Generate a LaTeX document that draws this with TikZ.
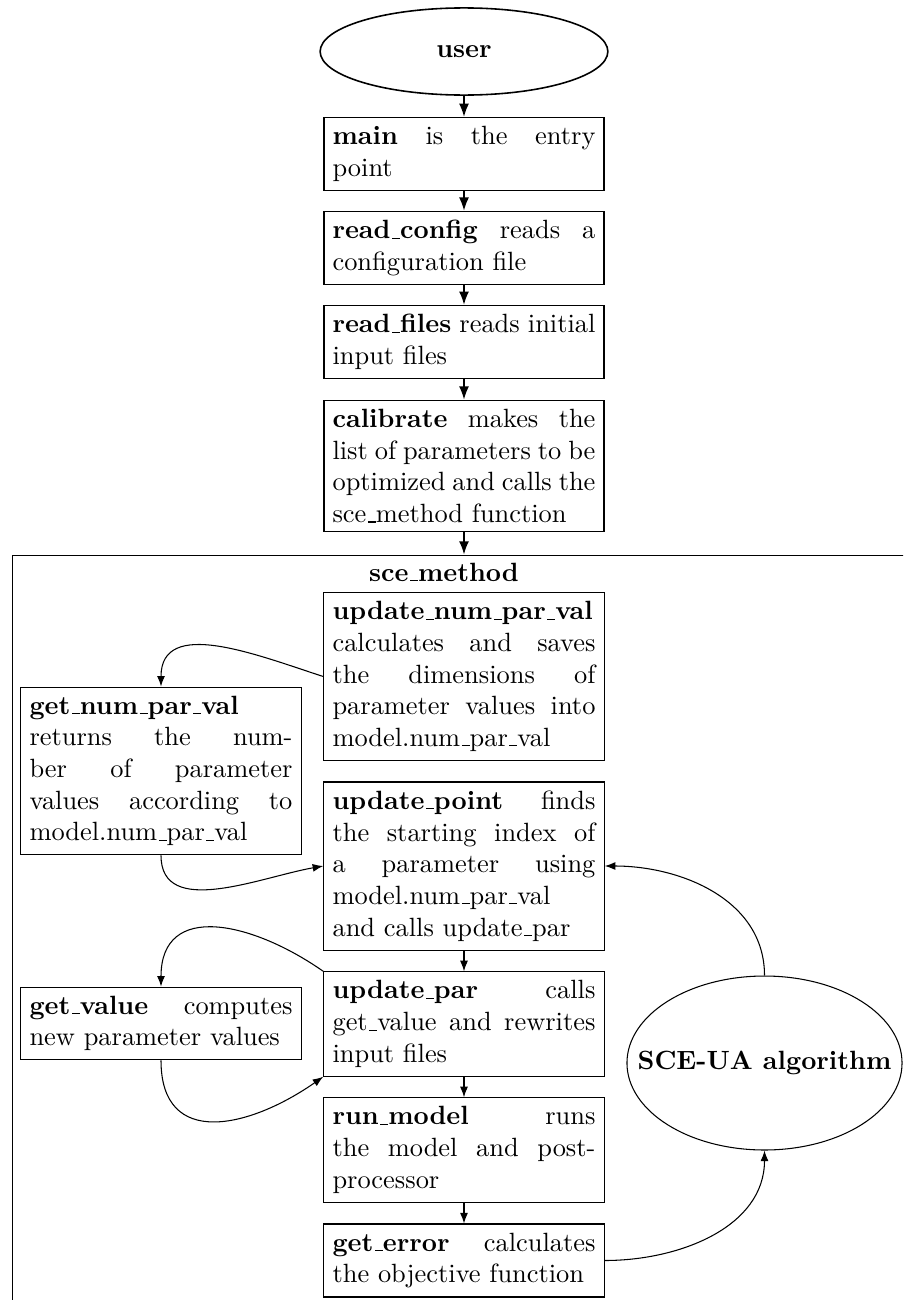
\documentclass[tikz,border=0pt]{standalone}
\usetikzlibrary{shapes.geometric,arrows.meta}
% underscore drawn as a short rule on the baseline
\newcommand\us{\leavevmode\kern.06em\vbox{\hrule width.3em}}
\begin{document}
\begin{tikzpicture}[x=0.3788pt,y=-0.3788pt,
  box/.style={draw, rectangle, text width=3.5cm, align=justify, inner sep=0.3333em, line width=0.4pt},
  topbox/.style={box, line width=0.6pt},
  toparrow/.style={-{Latex[length=5pt,width=3.8pt]}, line width=0.6pt},
  flow/.style={-{Latex[length=4pt,width=3pt]}, line width=0.4pt}]
\useasboundingbox (0,0) rectangle (903,1300);
\clip (0,0) rectangle (903,1300);

% main call chain
\node[draw, ellipse, line width=0.6pt, minimum width=109pt, minimum height=33pt, font=\bfseries] (user) at (464,51.5) {user};
\node[topbox] (main) at (464,154) {\textbf{main} is the entry point};
\node[topbox] (rcfg) at (464,248) {\textbf{read\us config} reads a configuration file};
\node[topbox] (rfiles) at (464,342) {\textbf{read\us files} reads initial input files};
\node[topbox] (calib) at (464,466) {\textbf{calibrate} makes the list of parameters to be optimized and calls the sce\us method function};

% sce_method frame
\node[draw, line width=0.5pt, anchor=north west, minimum width=380pt, minimum height=340pt, inner sep=0pt] (frame) at (11.5,554.5) {};
\node[font=\bfseries] (frametitle) at (444,572) {sce\us method};

\draw[toparrow] (user) -- (main);
\draw[toparrow] (main) -- (rcfg);
\draw[toparrow] (rcfg) -- (rfiles);
\draw[toparrow] (rfiles) -- (calib);
\draw[toparrow] (calib.south) -- (calib.south |- frame.north);

% functions inside sce_method
\node[box] (unpv) at (464,676.5) {\textbf{update\us num\us par\us val} calculates and saves the dimensions of parameter values into model.num\us par\us val};
\node[box] (gnpv) at (161,771) {\textbf{get\us num\us par\us val} returns the number of parameter values according to model.num\us par\us val};
\node[box] (upoint) at (464,866) {\textbf{update\us point} finds the starting index of a parameter using model.num\us par\us val and calls update\us par};
\node[box] (upar) at (464,1024) {\textbf{update\us par} calls get\us value and rewrites input files};
\node[box] (getval) at (161,1023.5) {\textbf{get\us value} computes new parameter values};
\node[box] (runm) at (464,1150) {\textbf{run\us model} runs the model and post-processor};
\node[box] (gerr) at (464,1260.5) {\textbf{get\us error} calculates the objective function};
\node[draw, ellipse, line width=0.4pt, minimum width=104.2pt, minimum height=65.9pt, inner sep=0pt] (sce) at (764.5,1063) {};
\node[font=\bfseries, inner sep=0pt] (scetext) at (sce.center) {SCE-UA algorithm};

\draw[flow] (upoint) -- (upar);
\draw[flow] (upar) -- (runm);
\draw[flow] (runm) -- (gerr);
\draw[flow] (unpv.west) to[out=162, in=90, looseness=1.1] (gnpv.north);
\draw[flow] (gnpv.south) to[out=-90, in=190] (upoint.west);
\draw[flow] (upar.north west) to[out=145, in=90, looseness=1.35] (getval.north);
\draw[flow] (getval.south) to[out=-90, in=215, looseness=1.4] (upar.south west);
\draw[flow] (sce.north) to[out=90, in=0] (upoint.east);
\draw[flow] (gerr.east) to[out=0, in=-90] (sce.south);
\end{tikzpicture}
\end{document}
